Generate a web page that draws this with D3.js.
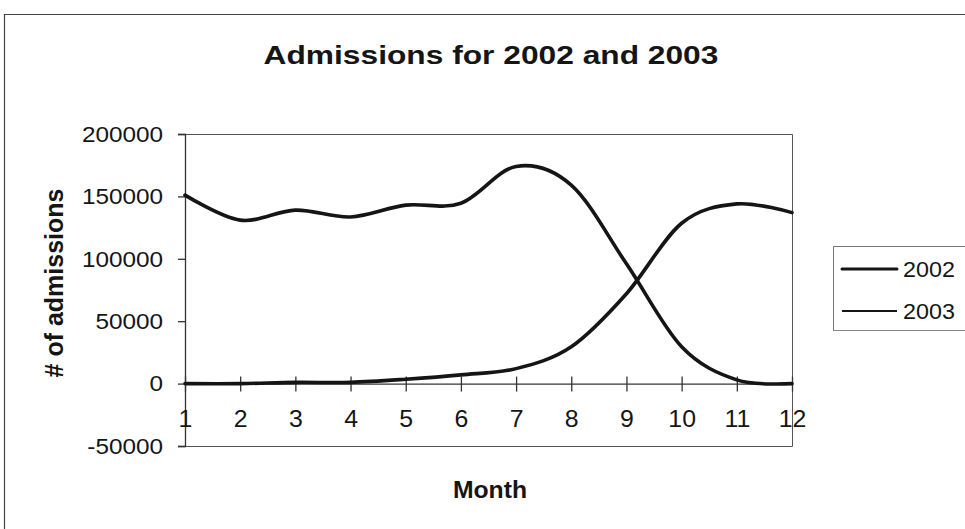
<!DOCTYPE html>
<html>
<head>
<meta charset="utf-8">
<script src="https://cdn.jsdelivr.net/npm/d3@7"></script>
<style>
  html, body { margin: 0; padding: 0; background: #fff; }
  svg { display: block; font-family: "Liberation Sans", Arial, sans-serif; }
</style>
</head>
<body>
<svg id="chart" width="965" height="529"></svg>
<script>
// Monthly admissions, months 1..12
const months = [1, 2, 3, 4, 5, 6, 7, 8, 9, 10, 11, 12];
const admissions2002 = [151000, 131000, 139000, 133500, 143000, 144500, 174000, 159000, 96000, 29500, 3000, 0];
const admissions2003 = [0, 0, 1000, 1000, 3500, 7000, 12000, 29500, 72000, 128500, 144000, 137000];
const seriesNames = ["2002", "2003"];
const yTicks = [-50000, 0, 50000, 100000, 150000, 200000];

const svg = d3.select("#chart");
const ink = "#151515";

// Widen glyphs of a text selection by a factor
function widen(sel, factor) {
  sel.each(function () {
    const w = this.getComputedTextLength();
    d3.select(this)
      .attr("textLength", w * factor)
      .attr("lengthAdjust", "spacingAndGlyphs");
  });
}

// Plot area bounds
const plotL = 185, plotR = 792, plotT = 134, plotB = 446;

const x = d3.scaleLinear().domain([1, 12]).range([plotL, plotR]);
const y = d3.scaleLinear().domain([-50000, 200000]).range([plotB, plotT]);

// Outer chart frame (top and left edges)
svg.append("path")
  .attr("d", `M4.5,529 V14.5 H965`)
  .attr("fill", "none")
  .attr("stroke", "#444")
  .attr("stroke-width", 1.2);

// Title
svg.append("text")
  .attr("x", 491).attr("y", 64)
  .attr("text-anchor", "middle")
  .attr("font-size", 26).attr("font-weight", "bold")
  .attr("fill", ink)
  .text("Admissions for 2002 and 2003")
  .call(widen, 1.22);

// Plot area border (top, right, bottom)
svg.append("path")
  .attr("d", `M${plotL},${plotT + 0.5} H${plotR + 0.5} V${plotB + 0.5} H${plotL}`)
  .attr("fill", "none")
  .attr("stroke", "#555")
  .attr("stroke-width", 1);

// Y axis
const yAxis = d3.axisLeft(y).tickValues(yTicks).tickSize(7).tickPadding(15)
  .tickFormat(d => String(d));
const gy = svg.append("g").attr("transform", `translate(${plotL},0)`).call(yAxis);
gy.select(".domain").attr("stroke", "#333").attr("stroke-width", 1.3);
gy.selectAll(".tick line").attr("stroke", "#333").attr("stroke-width", 1.3);
gy.selectAll(".tick text")
  .attr("font-size", 22.5).attr("fill", ink)
  .attr("font-family", "Liberation Sans, Arial, sans-serif")
  .call(widen, 1.08);

// X axis along the zero line, ticks crossing it
const xAxis = d3.axisBottom(x).tickValues(months).tickSize(0).tickPadding(27)
  .tickFormat(d => String(d));
const gx = svg.append("g").attr("transform", `translate(0,${y(0)})`).call(xAxis);
gx.select(".domain").attr("stroke", "#333").attr("stroke-width", 1.3);
gx.selectAll(".tick line").attr("y1", -7).attr("y2", 8)
  .attr("stroke", "#333").attr("stroke-width", 1.3);
gx.selectAll(".tick text")
  .attr("font-size", 23).attr("fill", ink)
  .attr("font-family", "Liberation Sans, Arial, sans-serif")
  .call(widen, 1.08);

// Axis titles
svg.append("text")
  .attr("x", 490).attr("y", 498)
  .attr("text-anchor", "middle")
  .attr("font-size", 24).attr("font-weight", "bold")
  .attr("fill", ink)
  .text("Month")
  .call(widen, 1.03);

svg.append("text")
  .attr("transform", "translate(63,283) rotate(-90)")
  .attr("text-anchor", "middle")
  .attr("font-size", 25).attr("font-weight", "bold")
  .attr("fill", ink)
  .text("# of admissions");

// Smoothed series lines
const line = d3.line()
  .x((d, i) => x(months[i]))
  .y(d => y(d))
  .curve(d3.curveCardinal.tension(0));

const series = [admissions2002, admissions2003];
svg.append("g").selectAll("path")
  .data(series)
  .join("path")
  .attr("d", line)
  .attr("fill", "none")
  .attr("stroke", ink)
  .attr("stroke-width", 3.6)
  .attr("stroke-linejoin", "round")
  .attr("stroke-linecap", "round");

// Legend
const legend = svg.append("g");
legend.append("path")
  .attr("d", "M833.5,331 V246.5 H965")
  .attr("fill", "none")
  .attr("stroke", "#777")
  .attr("stroke-width", 1);
legend.append("path")
  .attr("d", "M833.5,330.5 H965")
  .attr("fill", "none")
  .attr("stroke", "#888")
  .attr("stroke-width", 1);

const legendRows = [269, 311];
const legendWidths = [3, 2];
legend.selectAll("line.key")
  .data(seriesNames)
  .join("line")
  .attr("class", "key")
  .attr("x1", 842).attr("x2", 897)
  .attr("y1", (d, i) => legendRows[i]).attr("y2", (d, i) => legendRows[i])
  .attr("stroke", ink)
  .attr("stroke-width", (d, i) => legendWidths[i])
  .attr("stroke-linecap", (d, i) => i === 0 ? "round" : "butt");
legend.selectAll("text")
  .data(seriesNames)
  .join("text")
  .attr("x", 903)
  .attr("y", (d, i) => legendRows[i] + 8)
  .attr("font-size", 22)
  .attr("fill", ink)
  .text(d => d)
  .call(widen, 1.06);
</script>
</body>
</html>
